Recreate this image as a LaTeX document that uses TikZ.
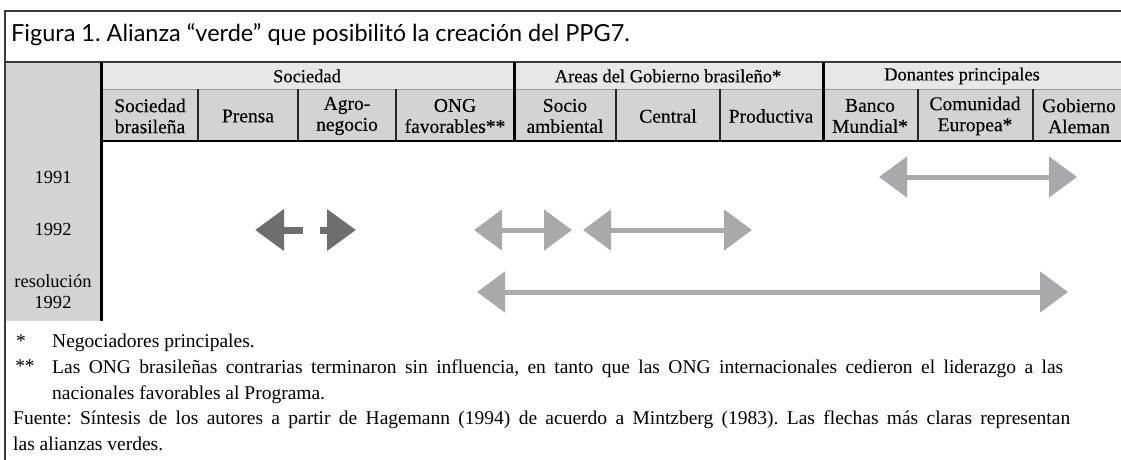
\documentclass[tikz,border=0pt]{standalone}
\usepackage{fontspec}
\setmainfont{Liberation Serif}
\newfontfamily\titlefont{Lato}
\newfontfamily\hdrfont{Liberation Serif}[FakeBold=0.3]
\usetikzlibrary{arrows.meta}
\frenchspacing
\definecolor{frameline}{HTML}{3A3A3A}
\definecolor{grayA}{HTML}{E6E7E8}
\definecolor{grayB}{HTML}{D1D3D4}
\definecolor{lightarr}{HTML}{A7A9AC}
\definecolor{darkarr}{HTML}{6D6E71}
\definecolor{sepline}{HTML}{9A9A9A}
\tikzset{
  hdrA/.style={font=\hdrfont\fontsize{18.5}{20}\selectfont, inner sep=0pt, anchor=center},
  hdrB/.style={font=\hdrfont\fontsize{19.5}{21}\selectfont, align=center, inner sep=0pt, anchor=center},
  yearlbl/.style={font=\fontsize{18.5}{21}\selectfont, align=center, inner sep=0pt, anchor=center},
  note/.style={font=\fontsize{19.5}{21}\selectfont, inner sep=0pt, anchor=west},
  thickv/.style={line width=3pt, draw=black},
  thinv/.style={line width=2pt, draw=black!85},
  lightarrow/.style={draw=lightarr, line width=5pt,
    {Triangle[length=28pt,width=40pt]}-{Triangle[length=28pt,width=40pt]}},
  darkarrow/.style={draw=darkarr, line width=7pt, -{Triangle[length=29pt,width=40pt]}},
}
\begin{document}
\begin{tikzpicture}[x=1pt,y=-1pt]
\useasboundingbox (0,0) rectangle (1121,460);
% backgrounds
\fill[grayB] (5,62) rectangle (101,321);
\fill[grayA] (101,62) rectangle (1121,89);
\fill[grayB] (101,89) rectangle (1121,141);
% frame
\draw[frameline, line width=1.5pt] (1121,11) -- (5,11) -- (5,460);
\draw[frameline, line width=1.2pt] (5,62) -- (1121,62);
\draw[sepline, line width=1pt] (101,89) -- (1121,89);
\draw[black, line width=1.3pt] (101,141) -- (1121,141);
% verticals
\draw[thickv] (101,62) -- (101,321);
\draw[thickv] (514,62) -- (514,141);
\draw[thickv] (823,62) -- (823,141);
\foreach \xx in {198,298,396,616,720,918,1033}{\draw[thinv] (\xx,89) -- (\xx,141);}
% title
\node[font=\titlefont\fontsize{23.5}{26}\selectfont, anchor=west, inner sep=0pt] (title) at (11,35) {Figura 1. Alianza “verde” que posibilitó la creación del PPG7.};
% header row 1
\node[hdrA] (gSoc) at (307,76) {Sociedad};
\node[hdrA] (gGob) at (668,76) {Areas del Gobierno brasileño*};
\node[hdrA] (gDon) at (962,76) {Donantes principales};
% header row 2
\node[hdrB] (cSB) at (150,116) {Sociedad\\brasileña};
\node[hdrB] (cPr) at (248,116) {Prensa};
\node[hdrB] (cAg) at (347,116) {Agro-\\negocio};
\node[hdrB] (cONG) at (455,116) {ONG\\favorables**};
\node[hdrB] (cSA) at (565,116) {Socio\\ambiental};
\node[hdrB] (cCe) at (668,116) {Central};
\node[hdrB] (cPd) at (771,116) {Productiva};
\node[hdrB] (cBM) at (870,116) {Banco\\Mundial*};
\node[hdrB] (cCE) at (975,116) {Comunidad\\Europea*};
\node[hdrB] (cGA) at (1079,116) {Gobierno\\Aleman};
% row labels
\node[yearlbl] (y91) at (53,177) {1991};
\node[yearlbl] (y92) at (53,229) {1992};
\node[yearlbl] (yres) at (53,292) {resolución\\1992};
% arrows
\coordinate (a91L) at (879,177); \coordinate (a91R) at (1077,177);
\draw[lightarrow] (a91L) -- (a91R);
\coordinate (aOL) at (474,230); \coordinate (aOR) at (572,230);
\draw[lightarrow] (aOL) -- (aOR);
\coordinate (aCL) at (583,230); \coordinate (aCR) at (752,230);
\draw[lightarrow] (aCL) -- (aCR);
\coordinate (aRL) at (477,292); \coordinate (aRR) at (1068,292);
\draw[lightarrow] (aRL) -- (aRR);
\coordinate (pL) at (255,230); \coordinate (pLs) at (303,230);
\coordinate (pRs) at (320,230); \coordinate (pR) at (356,230);
\draw[darkarrow] (pLs) -- (pL);
\draw[darkarrow] (pRs) -- (pR);
% footnotes
\node[note, anchor=center] (s1) at (21,341) {*};
\node[note] (n1) at (52,343) {Negociadores principales.};
\node[note, anchor=center] (s2) at (25,366) {**};
\node[note] (n2) at (52,369) {\hbox to 1011pt{Las ONG brasileñas contrarias terminaron sin influencia, en tanto que las ONG internacionales cedieron el liderazgo a las}};
\node[note] (n3) at (52,395) {nacionales favorables al Programa.};
\node[note] (n4) at (13,420) {\hbox to 1057pt{Fuente: Síntesis de los autores a partir de Hagemann (1994) de acuerdo a Mintzberg (1983). Las flechas más claras representan}};
\node[note] (n5) at (13,444) {las alianzas verdes.};
\end{tikzpicture}
\end{document}
